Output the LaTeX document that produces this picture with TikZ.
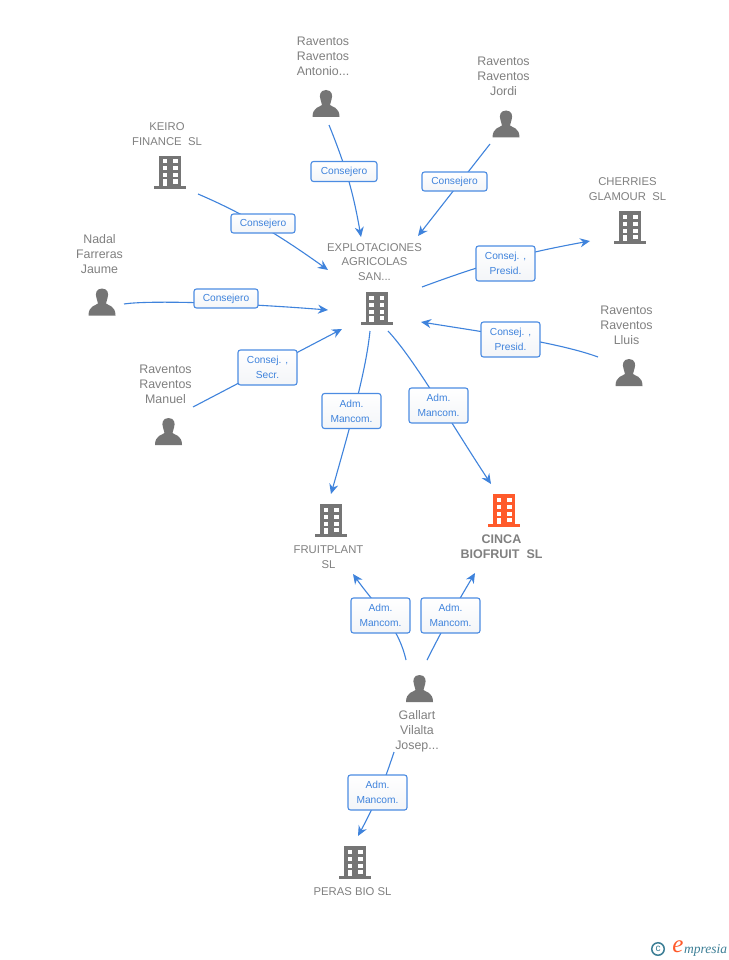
\documentclass[tikz,border=0pt]{standalone}
\usepackage{fontspec}
\setmainfont{Liberation Sans}
\usetikzlibrary{arrows.meta}
\definecolor{lnk}{HTML}{3F83DC}
\definecolor{tagline}{HTML}{4C8CE2}
\definecolor{tagfill}{HTML}{F3F5F8}
\definecolor{txtg}{HTML}{808080}
\definecolor{icong}{HTML}{757575}
\definecolor{orng}{HTML}{FF5A2B}
\definecolor{logoteal}{HTML}{3D7F96}
\tikzset{
  x=1pt,y=-1pt,
  link/.style={draw=lnk,line width=1.1pt,-{Stealth[length=10pt,width=9pt]}},
  tag/.style={draw=tagline,line width=1.1pt,rounded corners=2.5pt,top color=white,bottom color=tagfill,text=lnk,font=\fontsize{10.2}{15}\selectfont,align=center,inner sep=0pt,execute at begin node={\rule{0pt}{9pt}}},
  lab/.style={text=txtg,font=\fontsize{12.4}{15}\selectfont,align=center,inner sep=0pt},
  labb/.style={text=txtg,font=\fontsize{11.3}{14.5}\selectfont,align=center,inner sep=0pt},
  pics/bld/.style={code={
    \fill[#1] (-10.5,-16) rectangle (11.5,14);
    \fill[#1] (-15.5,14) rectangle (16.5,17);
    \foreach \c in {-7,3.5}{\foreach \r in {-12.5,-5.5,1.5}{\fill[white] (\c,\r) rectangle ++(4.5,4);}}
    \fill[white] (3.5,7.5) rectangle ++(4.5,4);
    \fill[white] (-7,7.5) rectangle ++(4.5,6.5);
  }},
  pics/psn/.style={code={
    \fill[icong] (0,-13.5) .. controls (-6,-13.5) and (-7,-8) .. (-5.5,-4) .. controls (-4.8,-2) and (-4,-1) .. (-4,1.5) .. controls (-6,3.5) and (-13.5,3.5) .. (-13.5,13.5) -- (13.5,13.5) .. controls (13.5,3.5) and (6,3.5) .. (4,1.5) .. controls (4,-1) and (4.8,-2) .. (5.5,-4) .. controls (7,-8) and (6,-13.5) .. (0,-13.5) -- cycle;
  }}
}
\newcommand{\tagbox}[5]{\node[tag,minimum width=#3pt,minimum height=#4pt] (#1) at (#2) {#5};}
\begin{document}
\begin{tikzpicture}
\useasboundingbox (0,0) rectangle (728,960);
\fill[white] (0,0) rectangle (728,960);
% connector ends
\coordinate (s1) at (329,125); \coordinate (e1) at (361,237);
\coordinate (s2) at (490,144); \coordinate (e2) at (418,236);
\coordinate (s3) at (198,194); \coordinate (e3) at (328,270);
\coordinate (s4) at (124,304); \coordinate (e4) at (328,310);
\coordinate (s5) at (193,407); \coordinate (e5) at (342,329);
\coordinate (s6) at (422,287); \coordinate (e6) at (590,241);
\coordinate (s7) at (598,357); \coordinate (e7) at (421,322);
\coordinate (s8) at (370,331); \coordinate (e8) at (331,494);
\coordinate (s9) at (388,331); \coordinate (e9) at (491,484);
\coordinate (s10) at (406,660); \coordinate (e10) at (353,574);
\coordinate (s11) at (427,660); \coordinate (e11) at (475,573);
\coordinate (s12) at (394,752); \coordinate (e12) at (358,836);
% control points
\coordinate (c3a) at (240,212); \coordinate (c3b) at (275,232);
\coordinate (c4a) at (150,300); \coordinate (c4b) at (240,303);
\coordinate (c7a) at (560,343); \coordinate (c7b) at (490,333);
\coordinate (c8a) at (366,370); \coordinate (c8b) at (352,420);
\coordinate (c9a) at (415,360); \coordinate (c9b) at (452,425);
\coordinate (c10a) at (398,625); \coordinate (c10b) at (375,605);
% connectors
\draw[link] (s1) to[bend left=6] (e1);
\draw[link] (s2) to (e2);
\draw[link] (s3) .. controls (c3a) and (c3b) .. (e3);
\draw[link] (s4) .. controls (c4a) and (c4b) .. (e4);
\draw[link] (s5) to (e5);
\draw[link] (s6) to[bend left=5] (e6);
\draw[link] (s7) .. controls (c7a) and (c7b) .. (e7);
\draw[link] (s8) .. controls (c8a) and (c8b) .. (e8);
\draw[link] (s9) .. controls (c9a) and (c9b) .. (e9);
\draw[link] (s10) .. controls (c10a) and (c10b) .. (e10);
\draw[link] (s11) to[bend left=2] (e11);
\draw[link] (s12) to[bend left=5] (e12);
% connector labels
\tagbox{t1}{344,171.5}{66}{20}{Consejero}
\tagbox{t2}{454.5,181.5}{65}{19}{Consejero}
\tagbox{t3}{263,223.5}{64}{19}{Consejero}
\tagbox{t4}{226,298.5}{64}{19}{Consejero}
\tagbox{t5}{267.5,367.5}{59}{35}{Consej. ,\\Secr.}
\tagbox{t6}{505.5,263.5}{59}{35}{Consej. ,\\Presid.}
\tagbox{t7}{510.5,339.5}{59}{35}{Consej. ,\\Presid.}
\tagbox{t8}{351.5,411}{59}{35}{Adm.\\Mancom.}
\tagbox{t9}{438.5,405.5}{59}{35}{Adm.\\Mancom.}
\tagbox{t10}{380.5,615.5}{59}{35}{Adm.\\Mancom.}
\tagbox{t11}{450.5,615.5}{59}{35}{Adm.\\Mancom.}
\tagbox{t12}{377.5,792.5}{59}{35}{Adm.\\Mancom.}
% entities
\pic at (376,308) {bld=icong};
\node[labb] (n0) at (374.5,262) {EXPLOTACIONES\\AGRICOLAS\\SAN...};
\pic at (326,103.5) {psn};
\node[lab] (n1) at (323,56) {Raventos\\Raventos\\Antonio...};
\pic at (506,124) {psn};
\node[lab] (n2) at (503.5,76) {Raventos\\Raventos\\Jordi};
\pic at (169.5,172) {bld=icong};
\node[labb] (n3) at (167,134) {KEIRO\\FINANCE\ \ SL};
\pic at (102,302) {psn};
\node[lab] (n4) at (99.5,254) {Nadal\\Farreras\\Jaume};
\pic at (168.5,431.5) {psn};
\node[lab] (n5) at (165.5,384) {Raventos\\Raventos\\Manuel};
\pic at (629.5,227) {bld=icong};
\node[labb] (n6) at (627.5,189) {CHERRIES\\GLAMOUR\ \ SL};
\pic at (629,372.5) {psn};
\node[lab] (n7) at (626.5,325) {Raventos\\Raventos\\Lluis};
\pic at (330.5,520) {bld=icong};
\node[labb] (n8) at (328.5,557) {FRUITPLANT\\SL};
\pic at (503.5,510) {bld=orng};
\node[text=txtg,font=\bfseries\fontsize{12.5}{15}\selectfont,align=center,inner sep=0pt] (n9) at (501.5,546.5) {CINCA\\BIOFRUIT\ \ SL};
\pic at (419.5,688.5) {psn};
\node[lab] (n10) at (417,731) {Gallart\\Vilalta\\Josep...};
\pic at (354.5,862) {bld=icong};
\node[labb] (n11) at (352.5,892) {PERAS BIO SL};
% logo
\node[circle,draw=logoteal,line width=1.5pt,minimum size=12.5pt,inner sep=0pt,text=logoteal,font=\fontsize{10}{10}\selectfont] (c0) at (658,949) {c};
\node[inner sep=0pt,text=orng,font=\fontspec{Liberation Serif}\itshape\fontsize{25}{25}\selectfont] (lg1) at (678,947) {e};
\node[inner sep=0pt,text=logoteal,font=\fontspec{Liberation Serif}\itshape\fontsize{13.5}{14}\selectfont,anchor=west] (lg2) at (684,950) {mpresia};
\end{tikzpicture}
\end{document}
